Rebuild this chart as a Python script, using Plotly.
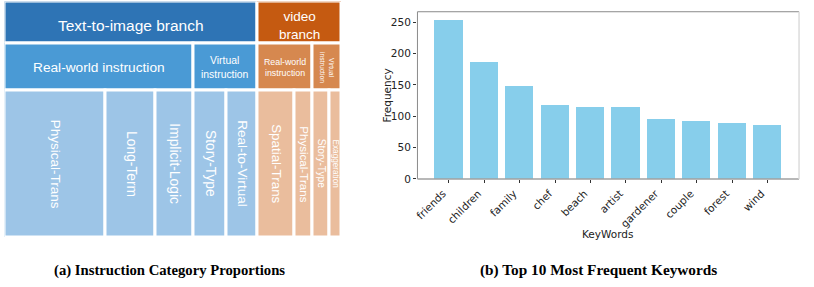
import plotly.graph_objects as go

# ---------------- data: left panel (instruction category proportions) ----------------
branch_labels = ["Text-to-image branch", "video<br>branch"]
group_labels = ["Real-world instruction", "Virtual<br>instruction",
                "Real-world<br>instruction", "Virtual<br>instruction"]
group_branch = [0, 0, 1, 1]
leaf_labels = ["Physical-Trans", "Long-Term", "Implicit-Logic", "Story-Type", "Real-to-Virtual",
               "Spatial-Trans", "Physical-Trans", "Story-Type", "Exaggeration"]
leaf_group = [0, 0, 0, 1, 1, 2, 2, 3, 3]
leaf_share = [30.1, 14.8, 11.2, 9.8, 9.1, 11.1, 5.5, 4.9, 3.5]

# ---------------- data: right panel (top 10 keywords) ----------------
keywords = ["friends", "children", "family", "chef", "beach", "artist",
            "gardener", "couple", "forest", "wind"]
frequency = [254, 187, 149, 118, 115, 115, 96, 93, 90, 87]

# ---------------- styles ----------------
W, H = 814, 287
BLUE = ["#2E74B5", "#4A9AD5", "#9DC5E7"]
ORANGE = ["#C55A11", "#D6884F", "#EABD9D"]
ROW_EDGES = [1.5, 44.7, 92.5, 242.3]       # vertical layout of the three tiers
branch_font = [15.5, 13.5]
group_font = [13.7, 10.4, 8.8, 6.8]
group_angle = [0, 0, 0, 90]
leaf_font = [13.5, 13.8, 13.8, 13.8, 13.6, 13.4, 11.6, 10.2, 8.2]
SANS = "Liberation Sans, Arial, sans-serif"

# aggregate shares
group_share = [0.0] * len(group_labels)
for g, s in zip(leaf_group, leaf_share):
    group_share[g] += s
branch_share = [0.0] * len(branch_labels)
for b, s in zip(group_branch, group_share):
    branch_share[b] += s
total = sum(leaf_share)


def centers(shares):
    out, acc = [], 0.0
    for s in shares:
        out.append(acc + s / 2)
        acc += s
    return out


fig = go.Figure()
annotations = []

levels = [
    (branch_labels, branch_share, list(range(len(branch_labels))), 0, branch_font, [0, 0]),
    (group_labels, group_share, group_branch, 1, group_font, group_angle),
    (leaf_labels, leaf_share, [group_branch[g] for g in leaf_group], 2, leaf_font,
     [90] * len(leaf_labels)),
]
for labels, shares, br, lvl, fonts, angles in levels:
    top, bot = ROW_EDGES[lvl], ROW_EDGES[lvl + 1]
    cx = centers(shares)
    cols = [(BLUE if b == 0 else ORANGE)[lvl] for b in br]
    fig.add_trace(go.Bar(
        x=cx, y=[bot - top] * len(shares), base=[top] * len(shares), width=shares,
        marker=dict(color=cols, line=dict(color="white", width=3)),
        xaxis="x", yaxis="y", hoverinfo="skip", showlegend=False,
    ))
    for lab, x, fs, ang in zip(labels, cx, fonts, angles):
        annotations.append(dict(
            x=x, y=(top + bot) / 2 + (3 if lvl == 0 else 0), xref="x", yref="y",
            text=lab, showarrow=False, textangle=ang,
            font=dict(family=SANS, size=fs, color="white"),
            xanchor="center", yanchor="middle",
        ))

# right panel bars
fig.add_trace(go.Bar(
    x=keywords, y=frequency, width=0.8, marker=dict(color="#87CEEB", line=dict(width=0)),
    xaxis="x2", yaxis="y2", showlegend=False,
))

# axes geometry
lx0, lx1 = 1.5 / W, 339.5 / W
rx0, rx1 = 416 / W, 799 / W
ry0, ry1 = (H - 182.7) / H, (H - 12) / H

TICKFONT = dict(family="DejaVu Sans, sans-serif", size=10.5, color="#222")

fig.update_layout(
    width=W, height=H, margin=dict(l=0, r=0, t=0, b=0),
    paper_bgcolor="white", plot_bgcolor="white", bargap=0, barmode="overlay",
    xaxis=dict(domain=[lx0, lx1], range=[0, total], visible=False, fixedrange=True),
    yaxis=dict(domain=[(H - ROW_EDGES[3]) / H, (H - ROW_EDGES[0]) / H],
               range=[ROW_EDGES[3], ROW_EDGES[0]], visible=False, fixedrange=True),
    xaxis2=dict(domain=[rx0, rx1], anchor="y2", range=[-0.89, 9.89],
                tickangle=-45, tickfont=TICKFONT, ticks="outside", ticklen=3.5,
                tickcolor="#333", showgrid=False, zeroline=False, showline=False,
                ticklabelshift=-6),
    yaxis2=dict(domain=[ry0, ry1], anchor="x2", range=[0, 267],
                tickvals=[0, 50, 100, 150, 200, 250], tickfont=TICKFONT,
                ticks="outside", ticklen=3.5, tickcolor="#333",
                showgrid=False, zeroline=False, showline=False),
    shapes=[
        dict(type="line", xref="x2 domain", yref="y2 domain", x0=0, x1=1, y0=1, y1=1,
             line=dict(color="#8a8a8a", width=1)),
        dict(type="line", xref="x2 domain", yref="y2 domain", x0=0, x1=0, y0=0, y1=1,
             line=dict(color="#8a8a8a", width=1)),
        dict(type="line", xref="x2 domain", yref="y2 domain", x0=0, x1=1, y0=0, y1=0,
             line=dict(color="#a0a0a0", width=1.5)),
        dict(type="line", xref="x2 domain", yref="y2 domain", x0=1, x1=1, y0=0, y1=1,
             line=dict(color="#dcdcdc", width=1.5)),
    ],
)

CAPFAM = "Liberation Serif, Times New Roman, serif"
annotations += [
    dict(x=(rx0 + rx1) / 2, y=(H - 239) / H, xref="paper", yref="paper",
         text="KeyWords", showarrow=False, xanchor="center", yanchor="middle",
         font=dict(family="DejaVu Sans, sans-serif", size=10.5, color="#222")),
    dict(x=385.7 / W, y=(H - 97.3) / H, xref="paper", yref="paper",
         text="Frequency", showarrow=False, textangle=-90, xanchor="center", yanchor="middle",
         font=dict(family="DejaVu Sans, sans-serif", size=10.5, color="#222")),
    dict(x=167.5 / W, y=(H - 276) / H, xref="paper", yref="paper",
         text="<b>(a) Instruction Category Proportions</b>", showarrow=False,
         xanchor="center", yanchor="middle",
         font=dict(family=CAPFAM, size=14.7, color="black")),
    dict(x=597.5 / W, y=(H - 276) / H, xref="paper", yref="paper",
         text="<b>(b) Top 10 Most Frequent Keywords</b>", showarrow=False,
         xanchor="center", yanchor="middle",
         font=dict(family=CAPFAM, size=15.3, color="black")),
]
fig.update_layout(annotations=annotations)

fig.write_html("out.html", config={"displayModeBar": False},
               post_script="document.body.style.margin='0px';document.body.style.overflow='hidden';")
